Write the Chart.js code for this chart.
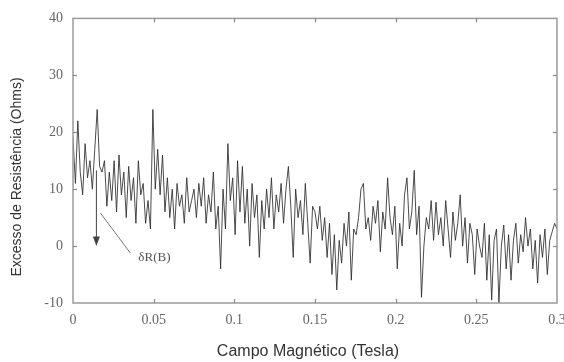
<!DOCTYPE html>
<html><head><meta charset="utf-8">
<script src="https://cdn.jsdelivr.net/npm/chart.js@4/dist/chart.umd.min.js"></script>
<style>html,body{margin:0;padding:0;background:#fff}#wrap{width:564px;height:362px}</style>
</head><body><div id="wrap"><canvas id="c" width="564" height="362"></canvas></div>
<script>
const fieldTesla = [
0,0.0015,0.003,0.0045,0.006,0.0075,0.009,0.0105,0.012,0.0135,
0.015,0.0165,0.018,0.0195,0.021,0.0225,0.024,0.0255,0.027,0.0285,
0.03,0.0315,0.033,0.0345,0.036,0.0375,0.039,0.0405,0.042,0.0435,
0.045,0.0465,0.048,0.0495,0.051,0.0525,0.054,0.0555,0.057,0.0585,
0.06,0.0615,0.063,0.0645,0.066,0.0675,0.069,0.0705,0.072,0.0735,
0.075,0.0765,0.078,0.0795,0.081,0.0825,0.084,0.0855,0.087,0.0885,
0.09,0.0915,0.093,0.0945,0.096,0.0975,0.099,0.1005,0.102,0.1035,
0.105,0.1065,0.108,0.1095,0.111,0.1125,0.114,0.1155,0.117,0.1185,
0.12,0.1215,0.123,0.1245,0.126,0.1275,0.129,0.1305,0.132,0.1335,
0.135,0.1365,0.138,0.1395,0.141,0.1425,0.144,0.1455,0.147,0.1485,
0.15,0.1515,0.153,0.1545,0.156,0.1575,0.159,0.1605,0.162,0.1635,
0.165,0.1665,0.168,0.1695,0.171,0.1725,0.174,0.1755,0.177,0.1785,
0.18,0.1815,0.183,0.1845,0.186,0.1875,0.189,0.1905,0.192,0.1935,
0.195,0.1965,0.198,0.1995,0.201,0.2025,0.204,0.2055,0.207,0.2085,
0.21,0.2115,0.213,0.2145,0.216,0.2175,0.219,0.2205,0.222,0.2235,
0.225,0.2265,0.228,0.2295,0.231,0.2325,0.234,0.2355,0.237,0.2385,
0.24,0.2415,0.243,0.2445,0.246,0.2475,0.249,0.2505,0.252,0.2535,
0.255,0.2565,0.258,0.2595,0.261,0.2625,0.264,0.2655,0.267,0.2685,
0.27,0.2715,0.273,0.2745,0.276,0.2775,0.279,0.2805,0.282,0.2835,
0.285,0.2865,0.288,0.2895,0.291,0.2925,0.294,0.2955,0.297,0.2985,
0.3];
const excessOhms = [
19,11,22,13,9,18,12,15,10,17,
24,14,13,15,7,13,8,15,6,16,
9,13,5,14,8,12,4,15,9,11,
4,8,3,24,10,17,9,16,6,12,
5,10,3,11,7,9,4,12,6,8,
10,5,11,7,12,4,9,6,13,3,
7,-4,10,3,18,8,12,2,15,6,
14,4,10,0,11,5,9,-2,8,3,
10,5,12,3,9,6,11,4,10,14,
7,-2,10,5,8,2,11,4,-3,7,
6,3,7,1,5,-2,4,-5,2,-7.7,
1,-3,4,0,6,-6,3,2,5,10,
11,3,5,1,7,4,8,-1,6,3,
12,5,2,7,-4,4,0,9,12,3,
6,13.3,2,7,-9,0,5,3,8,1,
7.7,2,5,0,8,3,-2,6,1,4,
9,0,5,-3,4,2,-5,3,0,-2,
4,-6,2,-9.5,1,3,-10,0,3.7,-4,
2,-6,1,4,-3,2,-1,5,0,3,
-4,1,-6.5,2,-2,3,-5,1,2.5,4,
3];
const xTicks = [0,0.05,0.1,0.15,0.2,0.25,0.3];
const yTicks = [-10,0,10,20,30,40];
const xTitle = 'Campo Magnético (Tesla)';
const yTitle = 'Excesso de Resistência (Ohms)';
const annotationLabel = 'δR(B)';

const points = fieldTesla.map((x,i)=>({x:x,y:excessOhms[i]}));

const framePlugin = {
  id:'frame',
  afterDraw(chart){
    const ctx = chart.ctx, a = chart.chartArea;
    const xs = chart.scales.x, ys = chart.scales.y;
    ctx.save();
    ctx.strokeStyle = '#9a9a9a';
    ctx.lineWidth = 1.5;
    ctx.strokeRect(a.left, a.top, a.right-a.left, a.bottom-a.top);
    ctx.lineWidth = 1.2;
    ctx.strokeStyle = '#888';
    const tl = 4;
    xTicks.slice(1,-1).forEach(v=>{
      const px = Math.round(xs.getPixelForValue(v))+0.5;
      ctx.beginPath(); ctx.moveTo(px,a.bottom); ctx.lineTo(px,a.bottom-tl); ctx.stroke();
      ctx.beginPath(); ctx.moveTo(px,a.top); ctx.lineTo(px,a.top+tl); ctx.stroke();
    });
    yTicks.slice(1,-1).forEach(v=>{
      const py = Math.round(ys.getPixelForValue(v))+0.5;
      ctx.beginPath(); ctx.moveTo(a.left,py); ctx.lineTo(a.left+tl,py); ctx.stroke();
      ctx.beginPath(); ctx.moveTo(a.right,py); ctx.lineTo(a.right-tl,py); ctx.stroke();
    });
    // annotation arrow
    ctx.strokeStyle = '#444'; ctx.fillStyle = '#444'; ctx.lineWidth = 1;
    const ax = xs.getPixelForValue(0.0145);
    const ay1 = ys.getPixelForValue(13.3), ay2 = ys.getPixelForValue(1.5);
    ctx.beginPath(); ctx.moveTo(ax,ay1); ctx.lineTo(ax,ay2); ctx.stroke();
    ctx.beginPath(); ctx.moveTo(ax-3.5,ay2-1); ctx.lineTo(ax+3.5,ay2-1); ctx.lineTo(ax,ys.getPixelForValue(0)); ctx.closePath(); ctx.fill();
    ctx.strokeStyle = '#777';
    ctx.beginPath();
    ctx.moveTo(xs.getPixelForValue(0.017), ys.getPixelForValue(5.8));
    ctx.lineTo(xs.getPixelForValue(0.0355), ys.getPixelForValue(-1.2));
    ctx.stroke();
    ctx.fillStyle = '#555';
    ctx.font = '13px "Liberation Serif"';
    ctx.textAlign = 'left'; ctx.textBaseline = 'middle';
    ctx.fillText(annotationLabel, xs.getPixelForValue(0.0405), ys.getPixelForValue(-2.1));
    // axis titles
    ctx.fillStyle = '#333';
    ctx.textAlign = 'center'; ctx.textBaseline = 'middle';
    ctx.font = '16px "Liberation Sans"';
    ctx.fillText(xTitle, 308, 352);
    ctx.translate(17, 177);
    ctx.rotate(-Math.PI/2);
    ctx.font = '14px "Liberation Sans"';
    ctx.fillText(yTitle, 0, 0);
    ctx.restore();
  }
};

new Chart(document.getElementById('c'), {
  type:'line',
  data:{datasets:[{data:points,borderColor:'rgba(45,45,45,0.85)',borderWidth:1,pointRadius:0,tension:0,fill:false}]},
  options:{
    responsive:false, animation:false,
    layout:{padding:{top:17,right:7,left:0,bottom:0}},
    plugins:{legend:{display:false},tooltip:{enabled:false}},
    scales:{
      x:{type:'linear',min:0,max:0.3,
        afterBuildTicks(s){s.ticks = xTicks.map(v=>({value:v}));},
        afterFit(s){s.height=59; s.paddingLeft=0; s.paddingRight=0;},
        grid:{display:false,drawTicks:false},
        border:{display:false},
        ticks:{padding:9,color:'#666',font:{family:'"Liberation Serif"',size:14},autoSkip:false,maxRotation:0,
          callback:(v)=>String(Math.round(v*100)/100)},
        title:{display:false}
      },
      y:{type:'linear',min:-10,max:40,
        afterBuildTicks(s){s.ticks = yTicks.map(v=>({value:v}));},
        afterFit(s){s.width=73;},
        grid:{display:false,drawTicks:false},
        border:{display:false},
        ticks:{padding:10,color:'#666',font:{family:'"Liberation Serif"',size:14}},
        title:{display:false}
      }
    }
  },
  plugins:[framePlugin]
});
</script></body></html>
